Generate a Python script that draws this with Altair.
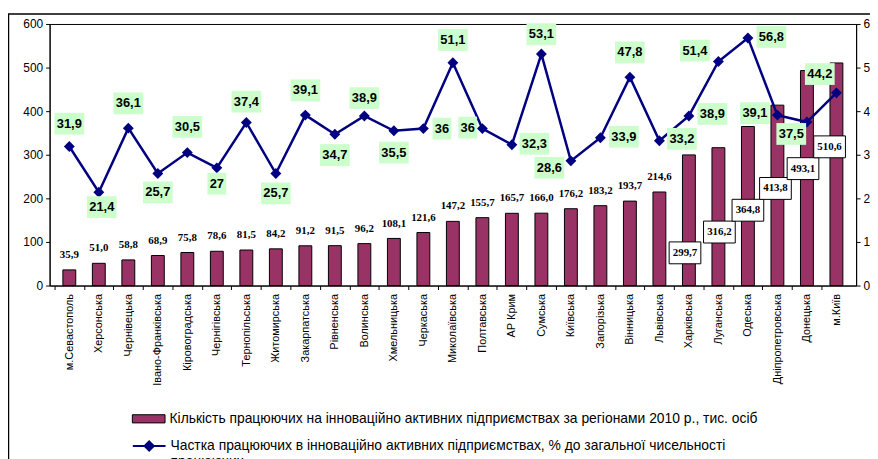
import json
import altair as alt
import pandas as pd

# ---------------- data ----------------
regions = ["м.Севастополь", "Херсонська", "Чернівецька", "Івано-Франківська",
           "Кіровоградська", "Чернігівська", "Тернопільська", "Житомирська",
           "Закарпатська", "Рівненська", "Волинська", "Хмельницька", "Черкаська",
           "Миколаївська", "Полтавська", "АР Крим", "Сумська", "Київська",
           "Запорізька", "Вінницька", "Львівська", "Харківська", "Луганська",
           "Одеська", "Дніпропетровська", "Донецька", "м.Київ"]
workers = [35.9, 51.0, 58.8, 68.9, 75.8, 78.6, 81.5, 84.2, 91.2, 91.5, 96.2,
           108.1, 121.6, 147.2, 155.7, 165.7, 166.0, 176.2, 183.2, 193.7, 214.6,
           299.7, 316.2, 364.8, 413.8, 493.1, 510.6]
share = [31.9, 21.4, 36.1, 25.7, 30.5, 27, 37.4, 25.7, 39.1, 34.7, 38.9, 35.5,
         36, 51.1, 36, 32.3, 53.1, 28.6, 33.9, 47.8, 33.2, 38.9, 51.4, 56.8,
         39.1, 37.5, 44.2]
bar_name = "Кількість працюючих на інноваційно активних підприємствах за регіонами 2010 р., тис. осіб"
line_name = "Частка працюючих в інноваційно активних підприємствах, % до загальної чисельності працюючих"
line_name_lines = ["Частка працюючих в інноваційно активних підприємствах, % до загальної чисельності",
                   "працюючих"]

# ---------------- layout (label placement, pixels) ----------------
W, H = 814, 264
spacing = W / len(regions)
share_label_dx = [0, 3, 0, 0, 0, 0, 0, 0, 0, 0, 0, 0, 19, 0, -15, 23, 0, -22,
                  24, 0, 23, 24, -24, 24, -23, -16, -17]
share_label_dy = [-23, 15, -25, 19, -26, 16, -21, 20, -25, 21, -18, 22, 0, -23,
                  -1, -1, -20, 7, -1, -25, -2, -2, -11, -1, -2, 12, -19]
boxed_from = 21
boxed_dx = [-4, 1, 0, -2, -4, -7]
boxed_dy_px = [253, 232, 210, 188, 168, 146]   # box centres, page y
plot_top, plot_bottom = 22, 286


def fmt(v, force_dec=True):
    if not force_dec and float(v).is_integer():
        return str(int(v))
    return f"{v:.1f}".replace(".", ",")


n = len(regions)
df = pd.DataFrame({
    "idx": list(range(n)),
    "region": regions,
    "workers": workers,
    "share": share,
    "wlabel": [fmt(v) for v in workers],
    "slabel": [fmt(v, False) for v in share],
    "bar_series": [bar_name] * n,
    "line_series": [line_name] * n,
})
df["lx"] = df["idx"] + pd.Series(share_label_dx) / spacing
df["ly"] = df["share"] - pd.Series(share_label_dy) * 60 / H
df["boxed"] = df["idx"] >= boxed_from
bx = [None] * boxed_from + [i + d / spacing for i, d in zip(range(boxed_from, n), boxed_dx)]
by = [None] * boxed_from + [(plot_bottom - y) / (plot_bottom - plot_top) * 600 for y in boxed_dy_px]
df["bx"] = bx
df["by"] = by

SANS = "Liberation Sans"
SERIF = "Liberation Serif"

xscale = alt.Scale(domain=[-0.5, n - 0.5], nice=False, zero=False)
label_expr = json.dumps(regions, ensure_ascii=False) + "[datum.value]"
x_axis = alt.Axis(values=list(range(n)), labelExpr=label_expr, labelAngle=270,
                  labelFont=SANS, labelFontSize=11, labelColor="black",
                  tickOffset=-spacing / 2, labelOffset=spacing / 2,
                  tickSize=4, tickColor="black", domainColor="black",
                  labelFlush=False, labelOverlap=False, labelBound=False,
                  labelPadding=4, grid=False, title=None)
left_axis = alt.Axis(values=list(range(0, 601, 100)), labelFont=SANS,
                     labelFontSize=12, labelColor="black", tickSize=4,
                     tickColor="black", domainColor="black", labelPadding=3,
                     grid=False, title=None, orient="left")
right_axis = alt.Axis(values=list(range(0, 61, 10)), labelFont=SANS,
                      labelFontSize=12, labelColor="black", tickSize=4,
                      tickColor="black", domainColor="black", labelPadding=3,
                      grid=False, title=None, orient="right")
left_scale = alt.Scale(domain=[0, 600], nice=False)
right_scale = alt.Scale(domain=[0, 60], nice=False)


def X(f):
    return alt.X(f"{f}:Q", scale=xscale, axis=x_axis)


def YL(f):
    return alt.Y(f"{f}:Q", scale=left_scale, axis=left_axis)


def YR(f):
    return alt.Y(f"{f}:Q", scale=right_scale, axis=right_axis)


base = alt.Chart(df)

frame = alt.Chart(alt.Data(values=[{"a": 1}])).mark_rect(
    fill="transparent", stroke="black", strokeWidth=1.5
).encode(x=alt.value(-41.5), y=alt.value(-10), x2=alt.value(3000), y2=alt.value(3000))

bars = base.mark_bar(size=13, stroke="black", strokeWidth=1).encode(
    x=X("idx"),
    y=YL("workers"),
    fill=alt.Fill("bar_series:N",
                  scale=alt.Scale(domain=[bar_name], range=["#993366"]),
                  legend=alt.Legend(orient="none", legendX=83, legendY=381.5,
                                    title=None, padding=0,
                                    symbolType="M-1,-0.25H1V0.25H-1Z",
                                    symbolSize=1089, symbolStrokeColor="black",
                                    symbolStrokeWidth=1, labelFont=SANS,
                                    labelFontSize=14, labelColor="black",
                                    labelLimit=2000, labelOffset=4)),
)

bar_text = base.transform_filter("!datum.boxed").mark_text(
    dy=-15, font=SERIF, fontSize=11, fontWeight="bold", color="black",
    baseline="middle", align="center"
).encode(x=X("idx"), y=YL("workers"), text="wlabel:N")

box_base = base.transform_filter("datum.boxed")
bar_boxes = box_base.mark_point(
    shape="M-1,-0.69H1V0.69H-1Z", size=1024, filled=True, fill="white",
    stroke="black", strokeWidth=1, opacity=1
).encode(x=X("bx"), y=YL("by"))
bar_box_text = box_base.mark_text(
    font=SERIF, fontSize=11, fontWeight="bold", color="black",
    baseline="middle", align="center"
).encode(x=X("bx"), y=YL("by"), text="wlabel:N")

left = alt.layer(bars, bar_text, bar_boxes, bar_box_text, frame)

line_legend_expr = ("datum.label == " + json.dumps(line_name, ensure_ascii=False) +
                    " ? " + json.dumps(line_name_lines, ensure_ascii=False) +
                    " : datum.label")

line = base.mark_line(strokeWidth=2.5).encode(
    x=X("idx"),
    y=YR("share"),
    stroke=alt.Stroke("line_series:N",
                      scale=alt.Scale(domain=[line_name], range=["#000080"]),
                      legend=alt.Legend(orient="none", legendX=83, legendY=408.5,
                                        title=None, padding=0,
                                        symbolType="M-1,0H1M-0.28,0L0,-0.28L0.28,0L0,0.28Z",
                                        symbolSize=1089, symbolFillColor="#000080",
                                        symbolStrokeWidth=2, labelFont=SANS,
                                        labelFontSize=14, labelColor="black",
                                        labelLimit=2000, labelOffset=4,
                                        labelExpr=line_legend_expr)),
)

points = base.mark_point(shape="diamond", size=121, filled=True,
                         color="#000080", opacity=1).encode(
    x=X("idx"), y=YR("share"))

green = base.transform_calculate(
    bshape="length(datum.slabel) > 2 ? 'M-1,-0.733H1V0.733H-1Z' : 'M-1,-1.158H1V1.158H-1Z'",
    bsize="length(datum.slabel) > 2 ? 900 : 361",
)
green_boxes = green.mark_point(filled=True, fill="#CCFFCC", strokeWidth=0,
                               opacity=1).encode(
    x=X("lx"), y=YR("ly"),
    shape=alt.Shape("bshape:N", scale=None, legend=None),
    size=alt.Size("bsize:Q", scale=None, legend=None))
green_text = base.mark_text(font=SANS, fontSize=13, fontWeight="bold",
                            color="black", baseline="middle", align="center").encode(
    x=X("lx"), y=YR("ly"), text="slabel:N")

right = alt.layer(line, points, green_boxes, green_text)

chart = alt.layer(left, right).resolve_scale(y="independent").properties(
    width=W, height=H,
    autosize=alt.AutoSizeParams(type="none"),
    padding={"left": 42, "top": 14, "right": 14, "bottom": 180},
    background="white",
).configure_view(stroke="black", strokeWidth=1)

chart.save("out.html", embed_options={"renderer": "svg", "actions": False})
